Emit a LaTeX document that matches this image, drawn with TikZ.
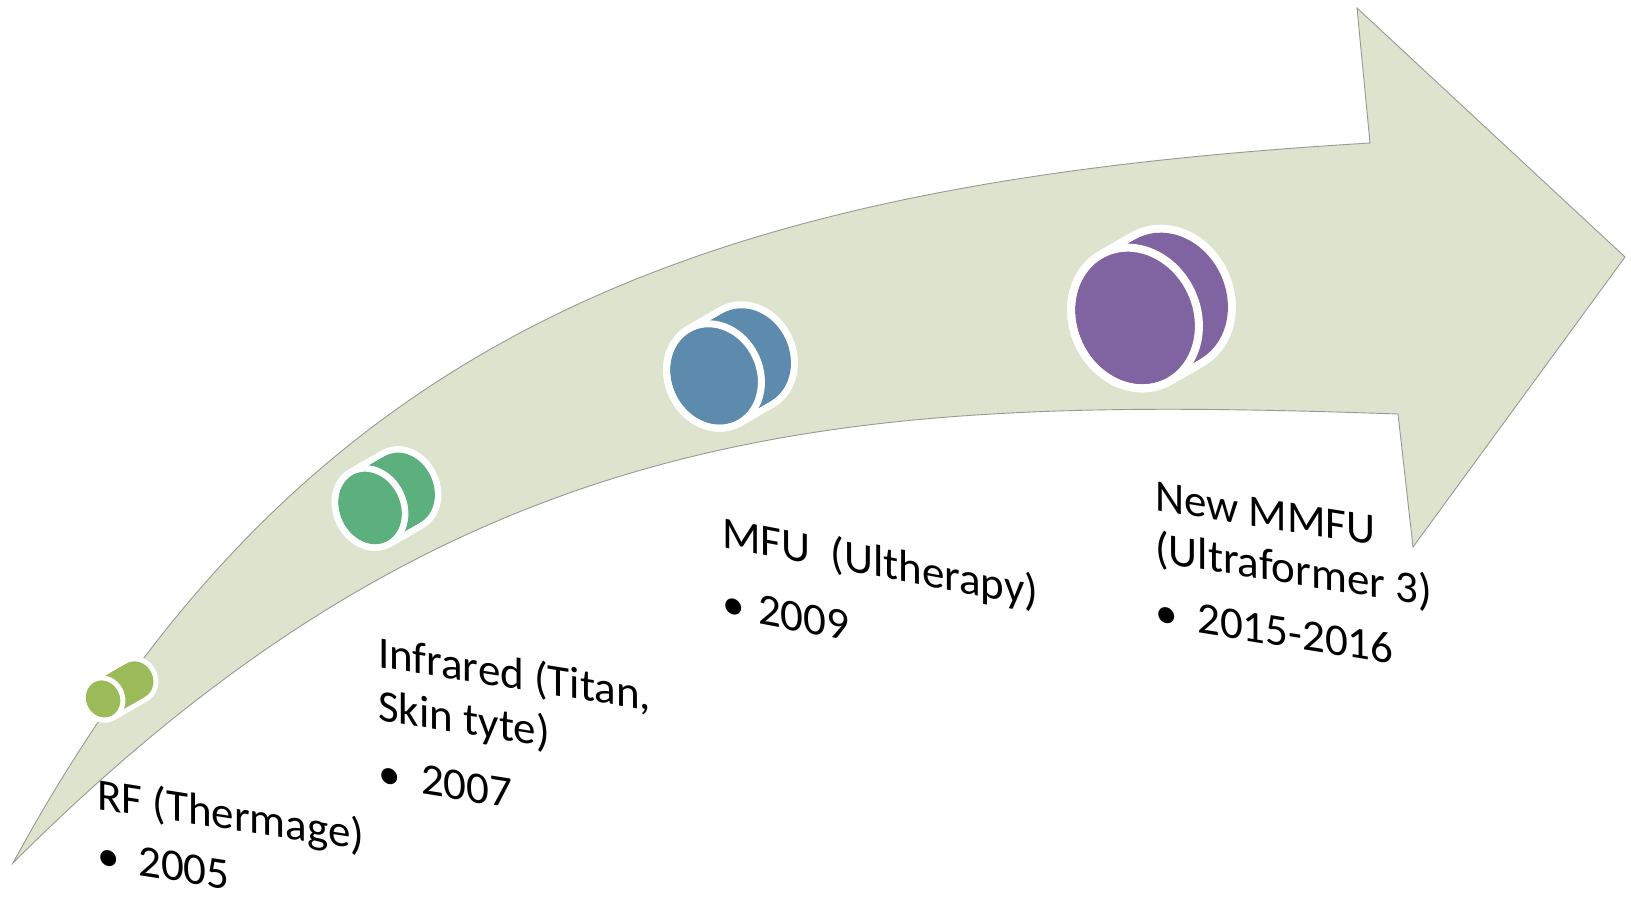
\documentclass[tikz,border=0pt]{standalone}
\usepackage{fontspec}
\setmainfont{Carlito}
\definecolor{arrowfill}{RGB}{222,227,206}
\definecolor{arrowedge}{RGB}{150,155,145}
\definecolor{cylA}{RGB}{155,187,89}
\definecolor{cylB}{RGB}{91,176,126}
\definecolor{cylC}{RGB}{93,139,174}
\definecolor{cylD}{RGB}{128,100,162}
% #1 x, #2 y, #3 major radius, #4 minor radius, #5 border, #6 colour
\newcommand\drawcyl[6]{%
  \begin{scope}[shift={(#1,#2)}]
    \foreach \i in {0,...,20} {
      \draw[white, line width=2*#5pt, shift={(1.65*\i,-0.95*\i)}, rotate=25]
        (0,0) ellipse [x radius=#4, y radius=#3];
    }
    \foreach \i in {0,...,20} {
      \fill[#6, shift={(1.65*\i,-0.95*\i)}, rotate=25]
        (0,0) ellipse [x radius=#4, y radius=#3];
    }
    \draw[white, line width=#5pt, rotate=25]
      (0,0) ellipse [x radius=#4+#5/2, y radius=#3+#5/2];
  \end{scope}%
}
\begin{document}
\begin{tikzpicture}[x=1pt,y=-1pt,
  lbl/.style={anchor=base west, inner sep=0pt, text=black,
    font=\fontsize{45}{54}\selectfont}]
\useasboundingbox (0,0) rectangle (1631,900);
\fill[white] (0,0) rectangle (1631,900);

% curved arrow
\filldraw[fill=arrowfill, draw=arrowedge, line width=0.9pt, line join=miter]
  (13,863) .. controls (309,318) and (720,182) .. (1370,143)
  -- (1357,8) -- (1625,257) -- (1413,547) -- (1398,414)
  .. controls (848,395) and (463,413) .. (13,863)
  -- cycle;

% cylinders
\drawcyl{103}{699}{19}{17}{5}{cylA}
\drawcyl{370}{508}{37.5}{30.5}{6.5}{cylB}
\drawcyl{714}{376}{50}{42.5}{7}{cylC}
\drawcyl{1135}{318}{68}{58}{8}{cylD}
\coordinate (c1) at (103,699);
\coordinate (c2) at (370,508);
\coordinate (c3) at (714,376);
\coordinate (c4) at (1135,318);

% labels
\node[lbl, yslant=-0.155] (rf1) at (97,809) {RF (Thermage)};
\node[lbl, yslant=-0.155] (rf2) at (97,869) {\makebox[41pt][l]{\textbullet}2005};

\node[lbl, yslant=-0.16] (ir1) at (378,667) {Infrared (Titan,};
\node[lbl, yslant=-0.16] (ir2) at (378,720) {Skin tyte)};
\node[lbl, yslant=-0.16] (ir3) at (378,787) {\makebox[43pt][l]{\textbullet}2007};

\node[lbl, yslant=-0.19] (mfu1) at (722,547) {MFU\ \ (Ultherapy)};
\node[lbl, yslant=-0.19] (mfu2) at (722,617) {\makebox[36pt][l]{\textbullet}2009};

\node[lbl, yslant=-0.16] (mm1) at (1155,510) {New MMFU};
\node[lbl, yslant=-0.16] (mm2) at (1155,562) {(Ultraformer 3)};
\node[lbl, yslant=-0.16] (mm3) at (1155,626) {\makebox[42pt][l]{\textbullet}2015-2016};
\end{tikzpicture}
\end{document}
